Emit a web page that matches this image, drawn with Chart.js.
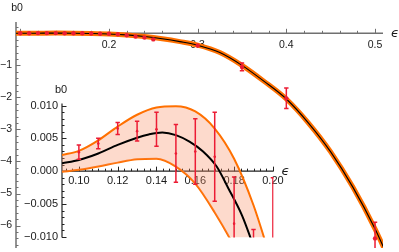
<!DOCTYPE html>
<html>
<head>
<meta charset="utf-8">
<script src="https://cdn.jsdelivr.net/npm/chart.js@4.4.1/dist/chart.umd.min.js"></script>
<style>
  body { margin: 0; background: #fff; }
  #wrap { position: relative; width: 399px; height: 252px; }
  #main { position: absolute; left: 0; top: 0; }
  #inset { position: absolute; left: 0; top: 85px; }
</style>
</head>
<body>
<div id="wrap">
  <canvas id="main" width="399" height="252"></canvas>
  <canvas id="inset" width="300" height="167"></canvas>
</div>
<script>
// measured points b0(eps) with errors
const epsPts = [0.10, 0.11, 0.12, 0.13, 0.14, 0.15, 0.16, 0.17, 0.18, 0.19, 0.20,
                0.21, 0.22, 0.23, 0.24, 0.25, 0.30, 0.35, 0.40, 0.50];
const b0Pts = [0.0029, 0.0042, 0.0065, 0.0061, 0.0064, 0.0027, 0.0030, 0.0022, -0.008, -0.016, -0.012,
               -0.03, -0.06, -0.10, -0.13, -0.19, -0.38, -1.05, -2.03, -6.4];
const b0Err = [0.0011, 0.0008, 0.0009, 0.0015, 0.0026, 0.0044, 0.0050, 0.0068, 0.0071, 0.0071, 0.011,
               0.01, 0.01, 0.015, 0.015, 0.02, 0.03, 0.12, 0.32, 0.5];

// fit curve, whole range
const epsFit = [0.095, 0.10, 0.12, 0.14, 0.16, 0.18, 0.20, 0.22, 0.24, 0.26, 0.28, 0.30,
                0.325, 0.35, 0.375, 0.40, 0.425, 0.45, 0.475, 0.50, 0.51];
const b0Fit = [0.001, 0.0017, 0.004, 0.0059, 0.004, -0.0045, -0.02, -0.05, -0.10, -0.17, -0.26, -0.37,
               -0.60, -1.0, -1.5, -2.05, -2.8, -3.7, -4.8, -6.1, -6.7];

// inset: fit and its band
const epsIn = [0.0913, 0.10, 0.11, 0.12, 0.13, 0.136, 0.143, 0.15, 0.157, 0.164, 0.171, 0.177, 0.184, 0.1885, 0.19];
const b0In = [0.0012, 0.0017, 0.0027, 0.0040, 0.0051, 0.0056, 0.0059, 0.0055, 0.0045, 0.0030, 0.0007, -0.0026, -0.0067, -0.0102, -0.0115];
const epsBand = [0.0913, 0.10, 0.11, 0.12, 0.13, 0.14, 0.15, 0.16, 0.17, 0.18, 0.19, 0.20];
const bandHi = [0.00245, 0.0031, 0.0047, 0.0068, 0.0086, 0.0097, 0.0099, 0.0091, 0.0065, 0.0019, -0.0052, -0.0145];
const bandLo = [-0.0001, 0.0002, 0.0007, 0.0013, 0.0018, 0.0019, 0.0007, -0.0019, -0.0063, -0.0115, -0.018, -0.025];

// tick labels
const mainXTicks = [0.1, 0.2, 0.3, 0.4, 0.5];
const mainXLabels = ['', '0.2', '0.3', '0.4', '0.5'];
const mainYTicks = [-1, -2, -3, -4, -5, -6];
const mainYLabels = ['\u22121', '\u22122', '\u22123', '\u22124', '\u22125', '\u22126'];
const inXTicks = [0.10, 0.12, 0.14, 0.16, 0.18, 0.20];
const inXLabels = ['0.10', '0.12', '0.14', '0.16', '0.18', '0.20'];
const inYTicks = [0.010, 0.005, 0, -0.005, -0.010];
const inYLabels = ['0.010', '0.005', '0.000', '\u22120.005', '\u22120.010'];

const xy = (xs, ys) => xs.map((x, i) => ({ x: x, y: ys[i] }));

const ORANGE = '#ff7000';
const RED = '#ec1c34';
const FONT = '"Liberation Sans", Arial, sans-serif';

// mathematica-like axes: x axis at y=0, y axis at left edge, ticks inside
const mAxes = {
  id: 'mAxes',
  beforeDatasetsDraw(chart, args, o) {
    const ctx = chart.ctx, a = chart.chartArea;
    const sx = chart.scales.x, sy = chart.scales.y;
    const y0 = sy.getPixelForValue(0);
    const x0 = a.left;
    ctx.save();
    ctx.strokeStyle = o.color;
    ctx.lineWidth = o.width;
    ctx.beginPath();
    ctx.moveTo(a.left, y0); ctx.lineTo(a.right, y0);
    ctx.moveTo(x0, a.top); ctx.lineTo(x0, a.bottom);
    ctx.stroke();

    ctx.lineWidth = 1;
    ctx.beginPath();
    let s = o.xMinor, k0 = Math.ceil(sx.min / s - 1e-6), k1 = Math.floor(sx.max / s + 1e-6);
    for (let k = k0; k <= k1; k++) {
      const px = Math.round(sx.getPixelForValue(k * s)) + 0.5;
      if (px < x0 + 2) continue;
      ctx.moveTo(px, y0); ctx.lineTo(px, y0 - 2.5);
    }
    s = o.yMinor; k0 = Math.ceil(sy.min / s - 1e-6); k1 = Math.floor(sy.max / s + 1e-6);
    for (let k = k0; k <= k1; k++) {
      const py = Math.round(sy.getPixelForValue(k * s)) + 0.5;
      ctx.moveTo(x0, py); ctx.lineTo(x0 + 2.5, py);
    }
    o.xTicks.forEach(v => {
      const px = Math.round(sx.getPixelForValue(v)) + 0.5;
      if (px < x0 + 2) return;
      ctx.moveTo(px, y0); ctx.lineTo(px, y0 - 4.5);
    });
    o.yTicks.forEach(v => {
      const py = Math.round(sy.getPixelForValue(v)) + 0.5;
      ctx.moveTo(x0, py); ctx.lineTo(x0 + 4.5, py);
    });
    ctx.stroke();

    ctx.fillStyle = '#1a1a1a';
    ctx.font = o.font;
    ctx.textAlign = 'center';
    ctx.textBaseline = 'middle';
    o.xTicks.forEach((v, i) => ctx.fillText(o.xLabels[i], sx.getPixelForValue(v), y0 + o.xLabelGap));
    ctx.textAlign = 'right';
    o.yTicks.forEach((v, i) => ctx.fillText(o.yLabels[i], x0 - 4, sy.getPixelForValue(v)));
    ctx.textAlign = 'center';
    ctx.fillText('b0', o.yTitleAt[0], o.yTitleAt[1]);
    ctx.font = 'italic 13px "DejaVu Sans", sans-serif';
    ctx.fillText('\u03f5', a.right + o.xTitleGap, y0);
    ctx.restore();
  }
};

// error bars for dataset 0
const errBars = {
  id: 'errBars',
  afterDatasetsDraw(chart, args, o) {
    const ctx = chart.ctx, a = chart.chartArea;
    const sx = chart.scales.x, sy = chart.scales.y;
    const pts = chart.data.datasets[0].data;
    ctx.save();
    ctx.beginPath();
    ctx.rect(a.left, a.top, a.right - a.left, a.bottom - a.top);
    ctx.clip();
    ctx.strokeStyle = RED;
    ctx.lineWidth = o.width;
    ctx.beginPath();
    pts.forEach((p, i) => {
      const e = o.errs[i];
      const px = sx.getPixelForValue(p.x);
      const hi = sy.getPixelForValue(p.y + e), lo = sy.getPixelForValue(p.y - e);
      if (lo - hi < 2) return;
      ctx.moveTo(px, hi); ctx.lineTo(px, lo);
      ctx.moveTo(px - o.cap, hi); ctx.lineTo(px + o.cap, hi);
      ctx.moveTo(px - o.cap, lo); ctx.lineTo(px + o.cap, lo);
    });
    ctx.stroke();
    ctx.restore();
  }
};

new Chart(document.getElementById('main'), {
  type: 'line',
  data: {
    datasets: [
      { data: xy(epsPts, b0Pts), showLine: false, pointRadius: 2.2, pointBackgroundColor: RED, pointBorderWidth: 0 },
      { data: xy(epsFit, b0Fit), borderColor: '#000', borderWidth: 1.1, pointRadius: 0, cubicInterpolationMode: 'monotone' },
      { data: xy(epsFit, b0Fit), borderColor: ORANGE, borderWidth: 5, pointRadius: 0, cubicInterpolationMode: 'monotone' }
    ]
  },
  options: {
    responsive: false,
    animation: false,
    layout: { padding: { left: 16, right: 16, top: 22, bottom: 0 } },
    scales: {
      x: { type: 'linear', display: false, min: 0.0952, max: 0.509 },
      y: { type: 'linear', display: false, min: -6.70, max: 0.353 }
    },
    plugins: {
      legend: { display: false },
      tooltip: { enabled: false },
      mAxes: {
        color: '#707070', width: 1.5, font: '10.5px ' + FONT,
        xTicks: mainXTicks, xLabels: mainXLabels, yTicks: mainYTicks, yLabels: mainYLabels,
        xMinor: 0.02, yMinor: 0.2, xLabelGap: 11.5, xTitleGap: 12, yTitleAt: [17, 8]
      },
      errBars: { errs: b0Err, cap: 2.2, width: 1.5 }
    }
  },
  plugins: [mAxes, errBars]
});

new Chart(document.getElementById('inset'), {
  type: 'line',
  data: {
    datasets: [
      { data: xy(epsPts.slice(0, 11), b0Pts.slice(0, 11)), showLine: false, pointRadius: 1.3, pointBackgroundColor: RED, pointBorderWidth: 0 },
      { data: xy(epsIn, b0In), borderColor: '#000', borderWidth: 2, pointRadius: 0, cubicInterpolationMode: 'monotone' },
      { data: xy(epsBand, bandHi), borderColor: ORANGE, borderWidth: 2, pointRadius: 0, cubicInterpolationMode: 'monotone',
        fill: '+1', backgroundColor: 'rgba(250, 140, 95, 0.32)' },
      { data: xy(epsBand, bandLo), borderColor: ORANGE, borderWidth: 2, pointRadius: 0, cubicInterpolationMode: 'monotone' }
    ]
  },
  options: {
    responsive: false,
    animation: false,
    layout: { padding: { left: 62, right: 26.5, top: 18.6, bottom: 14.6 } },
    scales: {
      x: { type: 'linear', display: false, min: 0.0913, max: 0.2003 },
      y: { type: 'linear', display: false, min: -0.0101, max: 0.0103 }
    },
    plugins: {
      legend: { display: false },
      tooltip: { enabled: false },
      filler: { propagate: false },
      mAxes: {
        color: '#222', width: 1.2, font: '11px ' + FONT,
        xTicks: inXTicks, xLabels: inXLabels, yTicks: inYTicks, yLabels: inYLabels,
        xMinor: 0.02 / 6, yMinor: 0.001, xLabelGap: 10, xTitleGap: 12, yTitleAt: [61, 5]
      },
      errBars: { errs: b0Err.slice(0, 11), cap: 2.2, width: 1.5 }
    }
  },
  plugins: [mAxes, errBars]
});
</script>
</body>
</html>
